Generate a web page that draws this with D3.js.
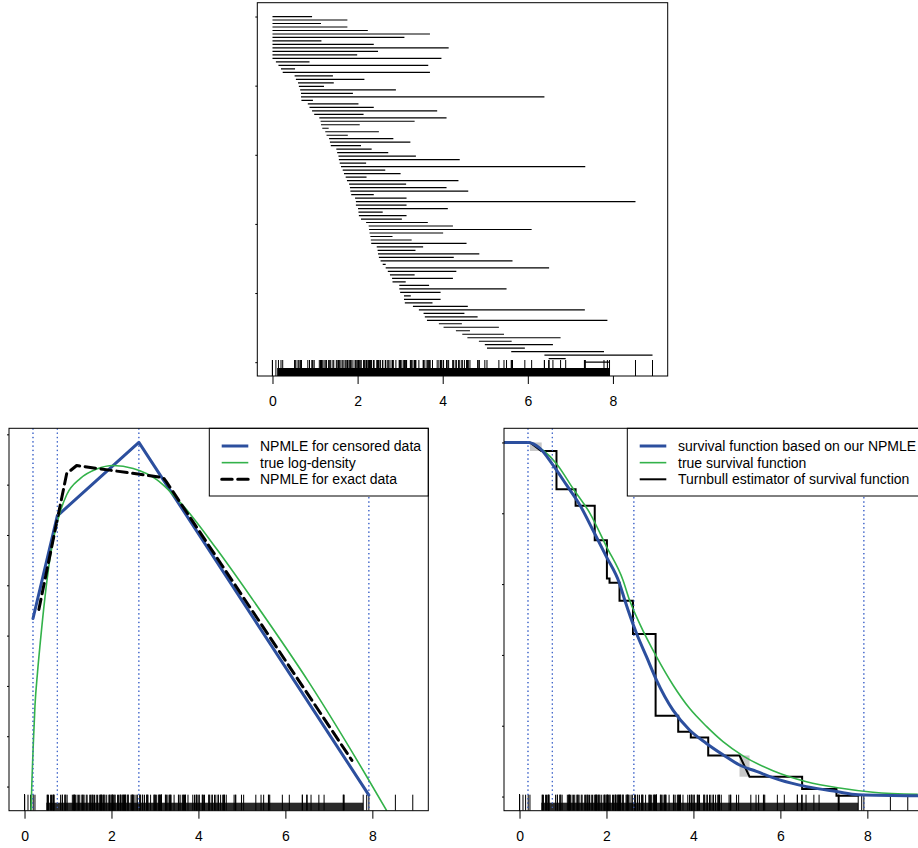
<!DOCTYPE html>
<html>
<head>
<meta charset="utf-8">
<script src="https://cdn.jsdelivr.net/npm/d3@7"></script>
<style>
  body { margin: 0; background: #fff; }
  text { font-family: "Liberation Sans", Arial, sans-serif; }
</style>
</head>
<body>
<svg width="918" height="848"></svg>
<script>
// ---- DATA ----
// censoring intervals, top to bottom
const segLeft = [0, 0, 0, 0, 0, 0, 0, 0, 0, 0, 0, 0, 0, 0.08, 0.14, 0.20, 0.24, 0.52, 0.55, 0.60,
  0.62, 0.65, 0.67, 0.67, 0.68, 0.83, 0.87, 0.93, 0.98, 1.10, 1.13, 1.14, 1.17, 1.24, 1.27, 1.33, 1.35, 1.37, 1.50, 1.52,
  1.55, 1.56, 1.58, 1.61, 1.65, 1.68, 1.72, 1.75, 1.80, 1.82, 1.83, 1.85, 1.94, 1.96, 1.96, 2.01, 2.02, 2.03, 2.08, 2.20,
  2.26, 2.27, 2.28, 2.30, 2.31, 2.32, 2.45, 2.47, 2.48, 2.50, 2.54, 2.59, 2.66, 2.71, 2.76, 2.81, 2.82, 2.98, 2.98, 3.00,
  3.09, 3.09, 3.11, 3.30, 3.44, 3.55, 3.58, 3.63, 3.91, 4.02, 4.31, 4.46, 4.58, 4.85, 4.99, 5.04, 5.61, 6.39, 6.49, 7.33];
const segRight = [0.93, 1.76, 1.14, 1.76, 2.24, 3.70, 3.10, 1.15, 2.38, 4.14, 2.48, 1.99, 3.97, 0.87, 3.66, 0.53, 3.70, 1.42, 2.16, 1.44,
  1.21, 2.90, 1.89, 6.39, 0.95, 2.02, 2.38, 3.87, 2.14, 4.09, 3.34, 2.05, 1.32, 2.50, 1.77, 2.84, 3.24, 2.08, 2.33, 2.72,
  3.37, 4.40, 2.20, 7.35, 2.65, 3.01, 2.21, 4.37, 3.14, 4.09, 4.60, 2.38, 3.15, 8.53, 3.15, 4.12, 2.59, 3.15, 3.04, 3.65,
  4.24, 6.09, 4.01, 2.82, 3.27, 4.56, 3.54, 3.36, 4.86, 4.26, 5.64, 2.66, 6.50, 4.32, 3.34, 4.24, 3.13, 3.68, 5.50, 3.95,
  3.25, 3.95, 3.76, 4.59, 7.34, 4.51, 4.82, 7.87, 4.45, 5.32, 4.64, 5.44, 6.77, 5.62, 6.59, 5.93, 7.79, 8.93, 6.89, 7.92];
const segTicks = [0, 0.2, 0.4, 0.6, 0.8, 1];
const xTicks = [0, 2, 4, 6, 8];

// dense rug bands (range of the short rug ticks)
const topBand = [0.11, 7.92];
const bottomBand = [0.5, 7.79];

// knots of the NPMLE and its log-density values
const knots = [0.195, 0.754, 2.63, 7.92];
const npmleLog = [-2.83, -1.81, -1.08, -4.585];

// true log-density
const trueLogX = [0.15, 0.17, 0.20, 0.24, 0.30, 0.36, 0.47, 0.59, 0.70, 0.82, 0.97, 1.28, 1.66, 2.04, 2.50, 3.04, 3.65, 4.42, 5.26, 6.55, 7.87, 8.33];
const trueLogY = [-4.74, -4.45, -4.10, -3.70, -3.36, -3.08, -2.62, -2.22, -1.97, -1.77, -1.60, -1.44, -1.345, -1.31, -1.34, -1.45, -1.71, -2.14, -2.65, -3.47, -4.40, -4.74];

// NPMLE for exact data
const exactX = [0.33, 0.97, 1.20, 3.19, 3.26, 7.53];
const exactY = [-2.74, -1.39, -1.31, -1.43, -1.47, -4.24];
const logTicks = [-4.5, -4, -3.5, -3, -2.5, -2, -1.5, -1];

// survival functions
const survNpmleX = [-0.36, 0.20, 0.47, 0.77, 1.08, 1.39, 1.69, 2.00, 2.30, 2.42, 2.69, 2.92, 3.15, 3.53, 3.91, 4.30, 4.68, 5.06, 5.45, 5.98, 6.60, 7.29, 7.79, 9.30];
const survNpmleS = [1, 1, 0.983, 0.936, 0.88, 0.823, 0.752, 0.677, 0.602, 0.555, 0.461, 0.395, 0.329, 0.244, 0.188, 0.150, 0.118, 0.089, 0.071, 0.047, 0.028, 0.014, 0.005, 0.002];
const survTrueX = [-0.36, 0.20, 0.54, 0.85, 1.23, 1.62, 2.00, 2.38, 2.53, 2.76, 3.15, 3.53, 3.91, 4.30, 4.68, 5.14, 5.83, 6.60, 7.36, 8.13, 9.16];
const survTrueS = [1, 1, 0.978, 0.94, 0.87, 0.80, 0.706, 0.611, 0.555, 0.489, 0.395, 0.315, 0.249, 0.198, 0.155, 0.115, 0.073, 0.042, 0.024, 0.012, 0.006];

// Turnbull estimator (vertices of the step path)
const turnX = [0, 0.24, 0.50, 0.85, 0.85, 1.29, 1.29, 1.73, 1.73, 2.01, 2.01, 2.07, 2.07, 2.30, 2.30, 2.61, 2.61, 3.13, 3.13, 3.65, 3.65, 3.94, 3.94, 4.34, 4.34, 5.06, 5.29, 6.50, 6.50, 7.29, 7.29, 7.79, 7.79];
const turnS = [1, 1, 0.976, 0.976, 0.868, 0.868, 0.821, 0.821, 0.724, 0.724, 0.616, 0.616, 0.604, 0.604, 0.553, 0.553, 0.459, 0.459, 0.228, 0.228, 0.183, 0.183, 0.167, 0.167, 0.116, 0.116, 0.056, 0.056, 0.021, 0.021, 0.002, 0.002, 0];
// shaded non-uniqueness boxes
const shadeX0 = [0.24, 5.06];
const shadeX1 = [0.51, 5.29];
const shadeS0 = [0.976, 0.056];
const shadeS1 = [1.0, 0.116];
const survTicks = [0, 0.2, 0.4, 0.6, 0.8, 1];

const legendLeft = ["NPMLE for censored data", "true log-density", "NPMLE for exact data"];
const legendRight = ["survival function based on our NPMLE", "true survival function", "Turnbull estimator of survival function"];

// ---- STYLE ----
const blue = "#2c4f9e";
const green = "#33b24a";
const xDomain = [-0.357, 9.287];
const svg = d3.select("svg");

function panel(box, yDomain, yTickVals, id) {
  const x = d3.scaleLinear().domain(xDomain).range([box.x0, box.x1]);
  const y = d3.scaleLinear().domain(yDomain).range([box.y1, box.y0]);
  svg.append("clipPath").attr("id", id)
    .append("rect").attr("x", box.x0).attr("y", box.y0)
    .attr("width", box.x1 - box.x0).attr("height", box.y1 - box.y0);
  const g = svg.append("g");
  const inner = g.append("g").attr("clip-path", `url(#${id})`);

  const xAxis = g.append("g")
    .attr("transform", `translate(0,${box.y1})`)
    .call(d3.axisBottom(x).tickValues(xTicks).tickSize(8).tickPadding(12.5).tickFormat(d3.format("d")));
  xAxis.select(".domain").remove();
  xAxis.selectAll("text").attr("font-size", 14).attr("font-family", "Liberation Sans, Arial, sans-serif").attr("fill", "#000");
  xAxis.selectAll("line").attr("stroke", "#000");

  const yAxis = g.append("g")
    .attr("transform", `translate(${box.x0},0)`)
    .call(d3.axisLeft(y).tickValues(yTickVals).tickSize(2).tickFormat(""));
  yAxis.select(".domain").remove();
  yAxis.selectAll("line").attr("stroke", "#000");

  return { x, y, g, inner, box };
}

function rug(p, band, bandFill) {
  const b = p.box;
  p.inner.append("rect")
    .attr("x", p.x(band[0])).attr("width", p.x(band[1]) - p.x(band[0]))
    .attr("y", b.y1 - 8).attr("height", 8).attr("fill", bandFill);
  p.inner.selectAll(".rug").data(segLeft.concat(segRight)).join("line")
    .attr("x1", d => p.x(d)).attr("x2", d => p.x(d))
    .attr("y1", b.y1 - 16).attr("y2", b.y1)
    .attr("stroke", "#000").attr("stroke-width", 1);
}

function frame(p) {
  const b = p.box;
  p.g.append("rect").attr("x", b.x0).attr("y", b.y0)
    .attr("width", b.x1 - b.x0).attr("height", b.y1 - b.y0)
    .attr("fill", "none").attr("stroke", "#000").attr("stroke-width", 1);
}

function knotLines(p) {
  p.inner.selectAll(".knot").data(knots).join("line")
    .attr("x1", d => p.x(d)).attr("x2", d => p.x(d))
    .attr("y1", p.box.y0).attr("y2", p.box.y1)
    .attr("stroke", "#3d63c9").attr("stroke-width", 1).attr("stroke-dasharray", "1.3,3");
}

function legend(p, lx0, lw, labels, styles) {
  const b = p.box;
  const lg = p.g.append("g");
  lg.append("rect").attr("x", lx0).attr("y", b.y0).attr("width", lw).attr("height", 67.7)
    .attr("fill", "#fff").attr("stroke", "#000").attr("stroke-width", 1);
  labels.forEach((t, i) => {
    const cy = 446 + i * 16.65;
    lg.append("line").attr("x1", lx0 + 12.4).attr("x2", lx0 + 39).attr("y1", cy).attr("y2", cy)
      .attr("stroke", styles[i].color).attr("stroke-width", styles[i].width)
      .attr("stroke-linecap", styles[i].dash ? "round" : "butt")
      .attr("stroke-dasharray", styles[i].dash || null);
    lg.append("text").attr("x", lx0 + 50.7).attr("y", cy).attr("dy", "0.35em")
      .attr("font-size", 14).text(t);
  });
  return lg;
}

// ---- TOP PANEL: intervals ----
const topP = panel({ x0: 257.3, x1: 667.7, y0: 2.7, y1: 376 }, [-0.04, 1.04], segTicks, "clipTop");
topP.inner.selectAll(".seg").data(segLeft).join("line")
  .attr("x1", d => topP.x(d))
  .attr("x2", (d, i) => topP.x(segRight[i]))
  .attr("y1", (d, i) => topP.y(1 - i / (segLeft.length - 1)))
  .attr("y2", (d, i) => topP.y(1 - i / (segLeft.length - 1)))
  .attr("stroke", "#000").attr("stroke-width", 1.2);
rug(topP, topBand, "#000");
frame(topP);

// ---- BOTTOM LEFT: log-densities ----
const bl = panel({ x0: 9, x1: 428.3, y0: 428.3, y1: 810.7 }, [-4.74, -0.94], logTicks, "clipBL");
knotLines(bl);
rug(bl, bottomBand, "#2a2a2a");
const lineBL = d3.line().x(d => bl.x(d[0])).y(d => bl.y(d[1]));
bl.inner.append("path").datum(knots.map((k, i) => [k, npmleLog[i]]))
  .attr("d", lineBL).attr("fill", "none").attr("stroke", blue).attr("stroke-width", 3)
  .attr("stroke-linecap", "round").attr("stroke-linejoin", "round");
bl.inner.append("path").datum(trueLogX.map((k, i) => [k, trueLogY[i]]))
  .attr("d", lineBL.curve(d3.curveMonotoneX)).attr("fill", "none").attr("stroke", green).attr("stroke-width", 1.6);
bl.inner.append("path").datum(exactX.map((k, i) => [k, exactY[i]]))
  .attr("d", lineBL.curve(d3.curveLinear)).attr("fill", "none").attr("stroke", "#000")
  .attr("stroke-width", 3).attr("stroke-linecap", "round").attr("stroke-linejoin", "round")
  .attr("stroke-dasharray", "10.5,5.5");
legend(bl, 209.3, 219, legendLeft, [
  { color: blue, width: 3 }, { color: green, width: 1.6 }, { color: "#000", width: 3, dash: "10.5,5.5" }]);
knotLines(bl);
frame(bl);

// ---- BOTTOM RIGHT: survival ----
const br = panel({ x0: 504, x1: 923.3, y0: 428.3, y1: 810.7 }, [-0.04, 1.04], survTicks, "clipBR");
knotLines(br);
rug(br, bottomBand, "#2a2a2a");
br.inner.selectAll(".shade").data(shadeX0).join("rect")
  .attr("x", d => br.x(d)).attr("width", (d, i) => br.x(shadeX1[i]) - br.x(d))
  .attr("y", (d, i) => br.y(shadeS1[i])).attr("height", (d, i) => br.y(shadeS0[i]) - br.y(shadeS1[i]))
  .attr("fill", "#c8c8c8");
const lineBR = d3.line().x(d => br.x(d[0])).y(d => br.y(d[1]));
br.inner.append("path").datum(turnX.map((k, i) => [k, turnS[i]]))
  .attr("d", lineBR).attr("fill", "none").attr("stroke", "#000").attr("stroke-width", 2);
br.inner.append("path").datum(survTrueX.map((k, i) => [k, survTrueS[i]]))
  .attr("d", lineBR.curve(d3.curveMonotoneX)).attr("fill", "none").attr("stroke", green).attr("stroke-width", 1.6);
br.inner.append("path").datum(survNpmleX.map((k, i) => [k, survNpmleS[i]]))
  .attr("d", lineBR.curve(d3.curveMonotoneX)).attr("fill", "none").attr("stroke", blue).attr("stroke-width", 3);
legend(br, 627.3, 300, legendRight, [
  { color: blue, width: 3 }, { color: green, width: 1.6 }, { color: "#000", width: 2 }]);
knotLines(br);
frame(br);
</script>
</body>
</html>
